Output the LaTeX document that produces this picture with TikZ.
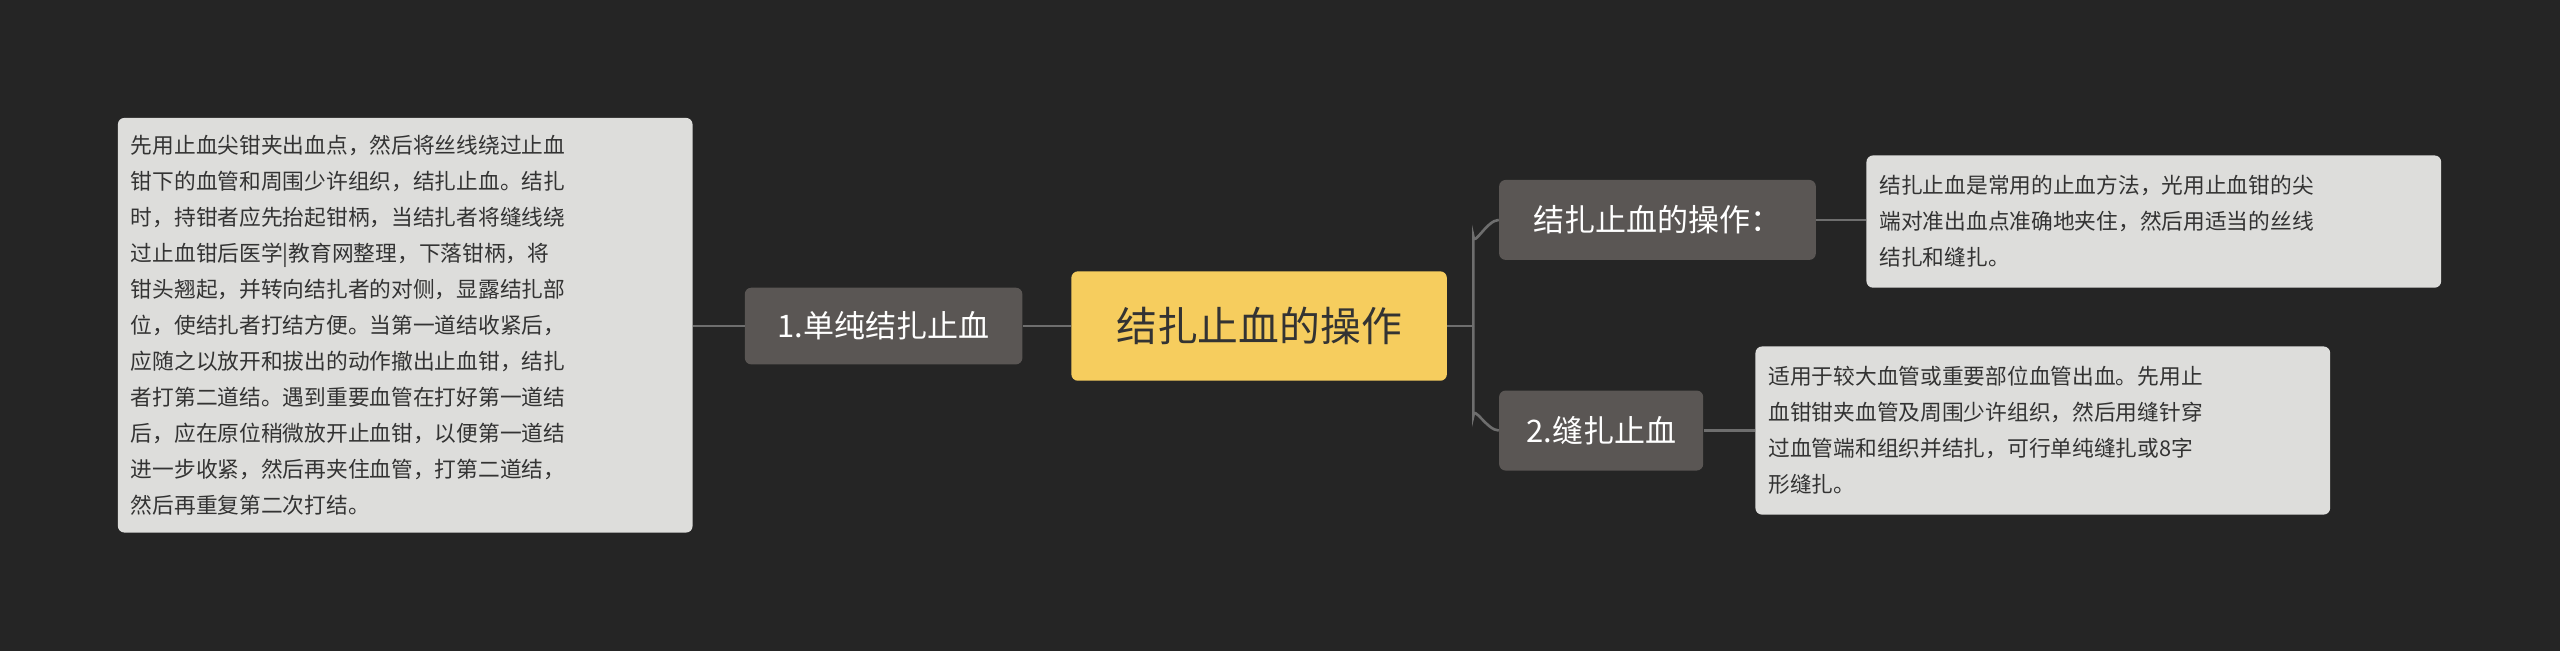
\documentclass[tikz,border=0pt]{standalone}
\usepackage{fontspec}
\setmainfont{Noto Sans CJK SC}
\begin{document}
\begin{tikzpicture}[x=1pt,y=-1pt,
  topic/.style={fill=topicgray,rounded corners=4pt,text=white,inner sep=0pt,anchor=north west},
  note/.style={fill=notegray,rounded corners=4pt,text=textdark,inner sep=0pt,anchor=north west},
  link/.style={draw=linegray,line width=1.6pt}]
\definecolor{bg}{HTML}{252525}
\definecolor{topicgray}{HTML}{5A5654}
\definecolor{notegray}{HTML}{DDDDDB}
\definecolor{textdark}{HTML}{333333}
\definecolor{linegray}{HTML}{6E6E6E}
\definecolor{center}{HTML}{F6CD5E}
\fill[bg] (0,0) rectangle (1568,399);
\useasboundingbox (0,0) rectangle (1568,399);
\node[fill=center,rounded corners=4pt,text=textdark,inner sep=0pt,anchor=north west,minimum width=230pt,minimum height=67pt,font=\fontsize{25}{30}\selectfont] (c) at (656,166) {结扎止血的操作};
\node[topic,minimum width=170pt,minimum height=47pt,font=\fontsize{19}{23}\selectfont] (a) at (456,176) {1.单纯结扎止血};
\node[topic,minimum width=194pt,minimum height=49pt,font=\fontsize{19}{23}\selectfont] (b) at (918,110) {结扎止血的操作：};
\node[topic,minimum width=125pt,minimum height=49pt,font=\fontsize{19}{23}\selectfont] (d) at (918,239) {2.缝扎止血};
\node[note,minimum width=352pt,minimum height=254pt,text width=336pt,align=left,font=\fontsize{13.3}{22}\selectfont,inner xsep=8pt] (an) at (72,72) {先用止血尖钳夹出血点，然后将丝线绕过止血\\钳下的血管和周围少许组织，结扎止血。结扎\\时，持钳者应先抬起钳柄，当结扎者将缝线绕\\过止血钳后医学|教育网整理，下落钳柄，将\\钳头翘起，并转向结扎者的对侧，显露结扎部\\位，使结扎者打结方便。当第一道结收紧后，\\应随之以放开和拔出的动作撤出止血钳，结扎\\者打第二道结。遇到重要血管在打好第一道结\\后，应在原位稍微放开止血钳，以便第一道结\\进一步收紧，然后再夹住血管，打第二道结，\\然后再重复第二次打结。};
\node[note,minimum width=352pt,minimum height=81pt,text width=336pt,align=left,font=\fontsize{13.3}{22}\selectfont,inner xsep=8pt] (bn) at (1143,95) {结扎止血是常用的止血方法，光用止血钳的尖\\端对准出血点准确地夹住，然后用适当的丝线\\结扎和缝扎。};
\node[note,minimum width=352pt,minimum height=103pt,text width=336pt,align=left,font=\fontsize{13.3}{22}\selectfont,inner xsep=8pt] (dn) at (1075,212) {适用于较大血管或重要部位血管出血。先用止\\血钳钳夹血管及周围少许组织，然后用缝针穿\\过血管端和组织并结扎，可行单纯缝扎或8字\\形缝扎。};
\draw[link] (c.west) -- (a.east);
\draw[link] (a.west) -- (an.east|-a.west);
\draw[link] (c.east) -- ++(16,0) coordinate (j);
\draw[link] (j) -- ++(0,-55) to[out=-90,in=180] (b.west);
\draw[link] (j) -- ++(0,55) to[out=90,in=180] (d.west);
\draw[link] (b.east) -- (bn.west|-b.east);
\draw[link] (d.east) -- (dn.west|-d.east);
\end{tikzpicture}
\end{document}
